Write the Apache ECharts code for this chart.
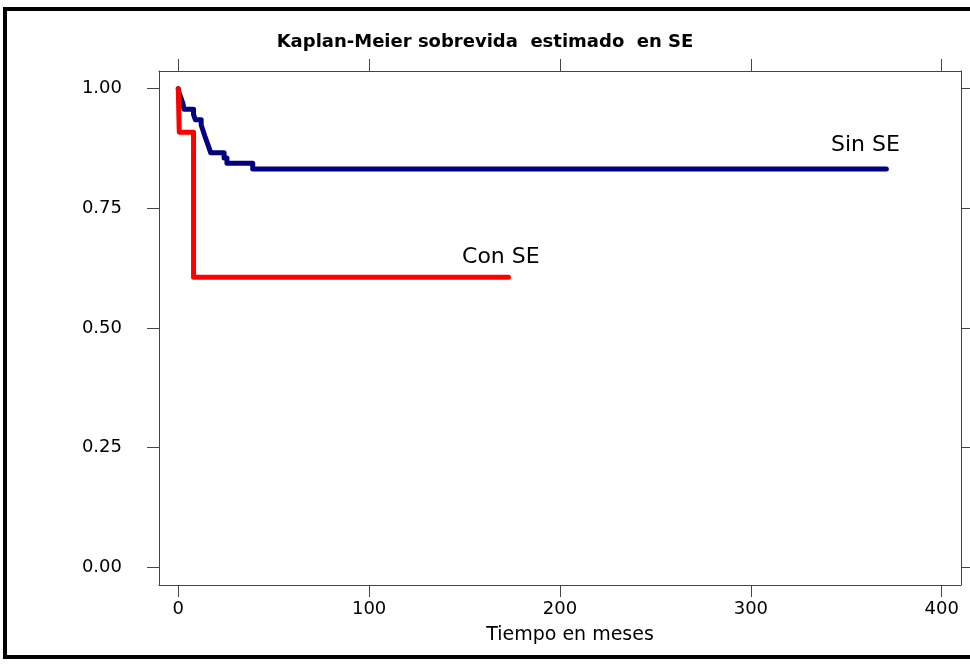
<!DOCTYPE html>
<html>
<head>
<meta charset="utf-8">
<script src="https://cdn.jsdelivr.net/npm/echarts@6/dist/echarts.min.js"></script>
<style>
html,body{margin:0;padding:0;background:#fff;}
#chart{width:970px;height:667px;}
</style>
</head>
<body>
<div id="chart"></div>
<script>
// ---- data ----
const chartTitle = 'Kaplan-Meier sobrevida  estimado  en SE';
const xAxisTitle = 'Tiempo en meses';
const xTicks = [0, 100, 200, 300, 400];
const yTicks = [0, 0.25, 0.5, 0.75, 1.0];

const timeSinSE = [0, 0.5, 1.5, 2.5, 3, 8, 9, 12, 13, 14, 15, 16, 17, 24, 25.5, 39, 371];
const survSinSE = [1.0, 0.99, 0.98, 0.968, 0.957, 0.946, 0.935, 0.924, 0.912, 0.90, 0.889, 0.878, 0.866, 0.855, 0.844, 0.832, 0.832];

const timeConSE = [0, 0.5, 8, 173];
const survConSE = [1.0, 0.909, 0.606, 0.606];

const labelSinSE = 'Sin SE';
const labelConSE = 'Con SE';
const labelSinSEAt = [360, 0.882];
const labelConSEAt = [169, 0.648];

// ---- chart ----
const chart = echarts.init(document.getElementById('chart'));
const font = 'DejaVu Sans';
const axisColor = '#444';

function pairs(xs, ys) { return xs.map((x, i) => [x, ys[i]]); }

function xAx(pos, showLabels) {
  return {
    type: 'value', position: pos, min: -10.1, max: 410.1,
    axisLine: { show: true, onZero: false, lineStyle: { color: axisColor, width: 1 } },
    axisTick: { show: true, inside: false, length: 12, customValues: xTicks, lineStyle: { color: axisColor, width: 1 } },
    axisLabel: { show: showLabels, customValues: xTicks, margin: 15, color: '#000', fontFamily: font, fontSize: 18 },
    splitLine: { show: false },
    name: showLabels ? xAxisTitle : '',
    nameLocation: 'middle', nameGap: 41,
    nameTextStyle: { color: '#000', fontFamily: font, fontSize: 19, padding: [0, 0, 0, 20] }
  };
}
function yAx(pos, showLabels) {
  return {
    type: 'value', position: pos, min: -0.037, max: 1.037,
    axisLine: { show: true, onZero: false, lineStyle: { color: axisColor, width: 1 } },
    axisTick: { show: true, inside: false, length: 12, customValues: yTicks, lineStyle: { color: axisColor, width: 1 } },
    axisLabel: { show: showLabels, customValues: yTicks, margin: 37, color: '#000', fontFamily: font, fontSize: 18,
                 formatter: v => Number(v).toFixed(2) },
    splitLine: { show: false }
  };
}

function annot(text, at) {
  return {
    symbol: 'circle', symbolSize: 1, silent: true,
    itemStyle: { color: 'rgba(0,0,0,0)' },
    label: { show: true, position: 'inside', color: '#000', fontFamily: font, fontSize: 22 },
    data: [{ coord: at, value: text, label: { formatter: text } }]
  };
}

chart.setOption({
  animation: false,
  backgroundColor: '#fff',
  title: {
    text: chartTitle, left: 'center', top: 28,
    textStyle: { fontFamily: font, fontWeight: 'bold', fontSize: 18, color: '#000' }
  },
  grid: { left: 159, top: 71, width: 802, height: 514, containLabel: false },
  xAxis: [xAx('bottom', true), xAx('top', false)],
  yAxis: [yAx('left', true), yAx('right', false)],
  graphic: [
    { type: 'rect', shape: { x: 5, y: 9, width: 980, height: 648 }, z: 100,
      style: { fill: null, stroke: '#000', lineWidth: 4 }, silent: true }
  ],
  series: [
    {
      name: labelSinSE, type: 'line', step: 'end', showSymbol: false, symbol: 'none',
      data: pairs(timeSinSE, survSinSE),
      lineStyle: { color: '#000080', width: 5, cap: 'round', join: 'round' },
      markPoint: annot(labelSinSE, labelSinSEAt)
    },
    {
      name: labelConSE, type: 'line', step: 'end', showSymbol: false, symbol: 'none',
      data: pairs(timeConSE, survConSE),
      lineStyle: { color: '#ff0000', width: 5, cap: 'round', join: 'round' },
      markPoint: annot(labelConSE, labelConSEAt)
    }
  ]
});
</script>
</body>
</html>
